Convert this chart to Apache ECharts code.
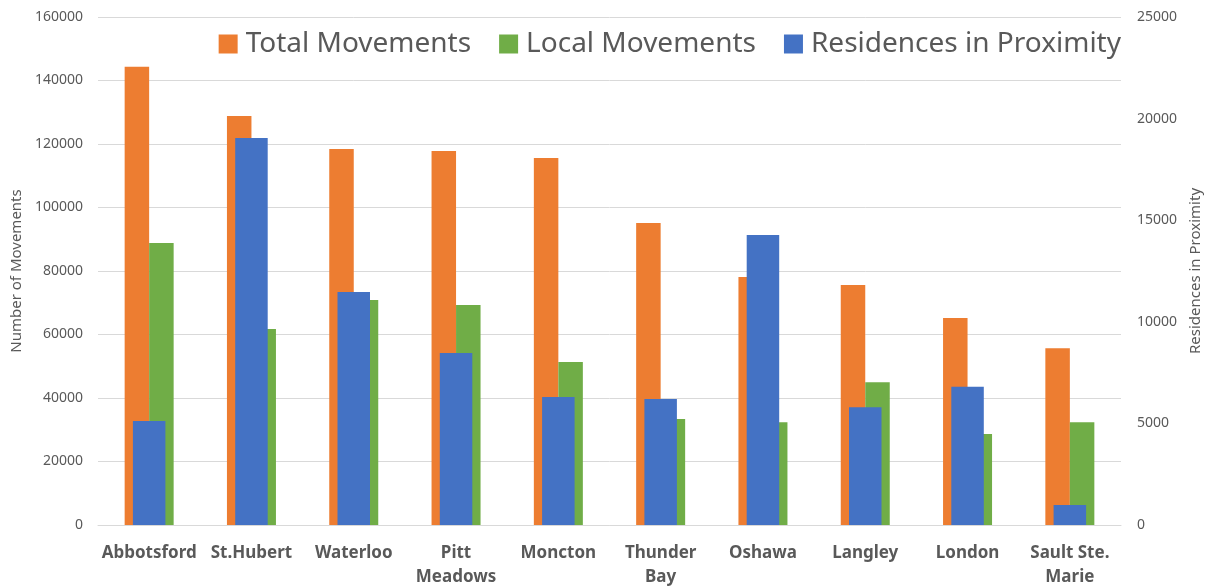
<!DOCTYPE html>
<html>
<head>
<meta charset="utf-8">
<script src="https://cdn.jsdelivr.net/npm/echarts@6/dist/echarts.min.js"></script>
<style>
  html, body { margin: 0; padding: 0; background: #fff; }
  #chart { width: 1206px; height: 586px; }
</style>
</head>
<body>
<div id="chart"></div>
<script>
const cities = ['Abbotsford', 'St.Hubert', 'Waterloo', 'Pitt Meadows', 'Moncton',
    'Thunder Bay', 'Oshawa', 'Langley', 'London', 'Sault Ste. Marie']
const totalMovements = [144300, 128800, 118400, 117800, 115600, 95100, 78100, 75600, 65200, 55700]
const localMovements = [88800, 61700, 70900, 69300, 51300, 33400, 32400, 45000, 28700, 32400]
const residences = [5120, 19050, 11470, 8460, 6300, 6200, 14270, 5800, 6800, 980]

const font = 'Noto Sans'
const grey = '#595959'

let chart = echarts.init(document.getElementById('chart'))

let option = {
    animation: false,
    textStyle: { fontFamily: font },
    legend: {
        top: 25,
        right: 80,
        icon: 'rect',
        itemWidth: 19,
        itemHeight: 19,
        itemGap: 28,
        textStyle: { fontSize: 28, color: grey, fontFamily: font, padding: [0, 0, 0, 3] },
        data: ['Total Movements', 'Local Movements', 'Residences in Proximity'],
    },
    grid: { left: 98, right: 85, top: 17, bottom: 61, outerBoundsMode: 'none', containLabel: false },
    xAxis: [
        {
            type: 'category',
            data: cities,
            axisTick: { show: false },
            axisLine: { lineStyle: { color: '#d9d9d9' } },
            axisLabel: {
                color: grey,
                fontWeight: 'bold',
                fontSize: 17,
                lineHeight: 24,
                margin: 16,
                interval: 0,
                // wrap long names at the last space
                formatter: v => v.replace(/ (?=\S+$)/, '\n'),
            },
        },
        {
            type: 'category',
            data: cities,
            show: false,
        },
    ],
    yAxis: [
        {
            type: 'value',
            min: 0,
            max: 160000,
            interval: 20000,
            name: 'Number of Movements',
            nameLocation: 'middle',
            nameGap: 73,
            nameTextStyle: { color: grey, fontSize: 15 },
            axisLabel: { color: grey, fontSize: 14, margin: 15, formatter: v => String(v) },
            splitLine: { lineStyle: { color: '#d9d9d9' } },
        },
        {
            type: 'value',
            min: 0,
            max: 25000,
            interval: 5000,
            name: 'Residences in Proximity',
            nameLocation: 'middle',
            nameGap: 66,
            nameTextStyle: { color: grey, fontSize: 15 },
            axisLabel: { color: grey, fontSize: 14, margin: 16, formatter: v => String(v) },
            splitLine: { show: false },
        },
    ],
    series: [
        {
            name: 'Total Movements',
            type: 'bar',
            data: totalMovements,
            barWidth: 24.5,
            barGap: '0%',
            itemStyle: { color: '#ED7D31' },
        },
        {
            name: 'Local Movements',
            type: 'bar',
            data: localMovements,
            barWidth: 24.5,
            barGap: '0%',
            itemStyle: { color: '#70AD47' },
        },
        {
            name: 'Residences in Proximity',
            type: 'bar',
            xAxisIndex: 1,
            yAxisIndex: 1,
            data: residences,
            barWidth: 32.5,
            itemStyle: { color: '#4472C4' },
        },
    ],
}

chart.setOption(option)
</script>
</body>
</html>
